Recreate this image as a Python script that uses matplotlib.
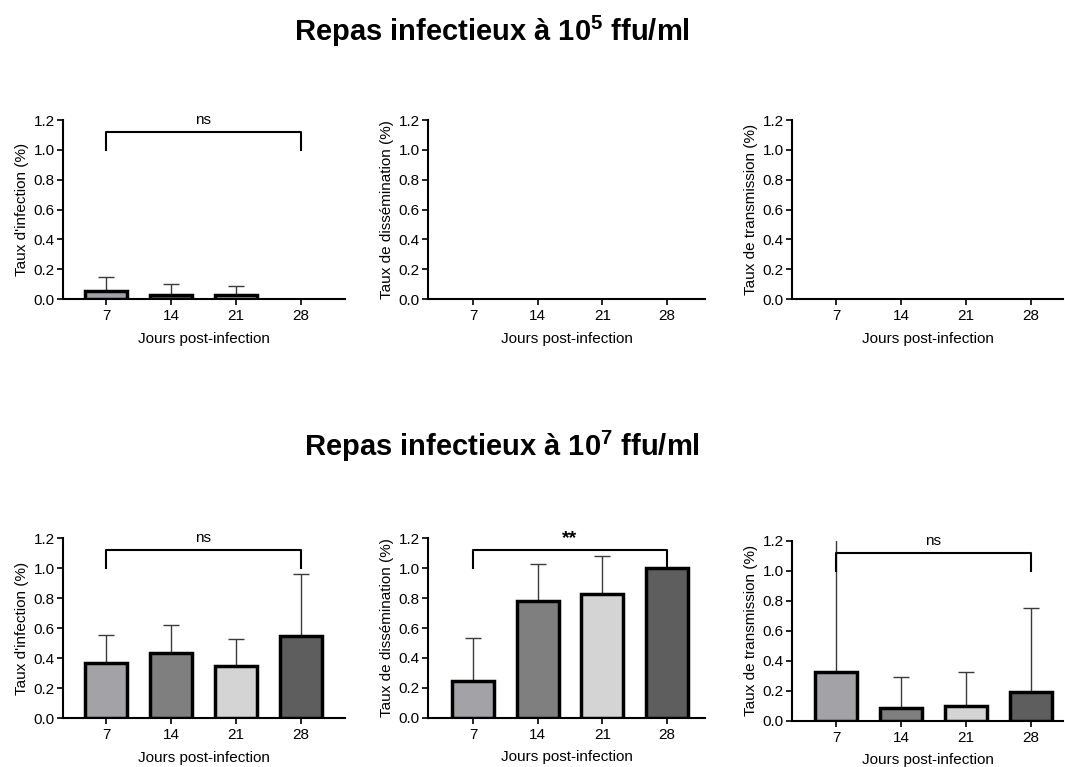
import matplotlib
matplotlib.use("Agg")
import matplotlib.pyplot as plt
import numpy as np

plt.rcParams['font.family'] = ['Liberation Sans', 'DejaVu Sans']
plt.rcParams['mathtext.fontset'] = 'custom'
plt.rcParams['mathtext.rm'] = 'Liberation Sans'
plt.rcParams['mathtext.bf'] = 'Liberation Sans:bold'

days = ['7', '14', '21', '28']
bar_colors = ['#a3a2a7', '#7f7f7f', '#d4d4d4', '#5e5e5e']

# 10^5 ffu/ml
inf5 = [0.055, 0.027, 0.025, 0.0]
inf5_err = [0.095, 0.073, 0.064, 0.0]
diss5 = [0.0, 0.0, 0.0, 0.0]
diss5_err = [0.0, 0.0, 0.0, 0.0]
trans5 = [0.0, 0.0, 0.0, 0.0]
trans5_err = [0.0, 0.0, 0.0, 0.0]

# 10^7 ffu/ml
inf7 = [0.369, 0.431, 0.347, 0.547]
inf7_err = [0.182, 0.187, 0.177, 0.413]
diss7 = [0.243, 0.78, 0.827, 1.0]
diss7_err = [0.292, 0.25, 0.253, 0.0]
trans7 = [0.327, 0.083, 0.098, 0.194]
trans7_err = [0.95, 0.211, 0.229, 0.561]

ylabels = ["Taux d'infection (%)", "Taux de dissémination (%)", "Taux de transmission (%)"]
sig7 = ['ns', '**', 'ns']

W, H = 1065, 767
fig = plt.figure(figsize=(W / 100, H / 100), dpi=100)

def px_axes(left, right, y0, y12):
    return fig.add_axes([left / W, 1 - y0 / H, (right - left) / W, (y0 - y12) / H])

# (left px, right px, tick7 px, tick28 px)
cols = [(63, 345, 106, 301), (428, 705, 473, 667), (792, 1063, 836, 1031)]
rows_top = [(299, 120), (299, 120), (299, 120)]
rows_bot = [(718, 538), (717.7, 538.3), (720.7, 541)]

def draw(ax, vals, errs, col, ylabel, sig=None):
    left, right, t7, t28 = col
    sp = (t28 - t7) / 3
    x = np.arange(len(days))
    vals = np.asarray(vals)
    errs = np.asarray(errs)
    nz = vals > 0
    ax.bar(x[nz], vals[nz], width=0.65, color=[c for c, k in zip(bar_colors, nz) if k],
           edgecolor='black', linewidth=2.5, zorder=3)
    ez = errs > 0
    if ez.any():
        ax.errorbar(x[ez], vals[ez], yerr=[np.zeros(ez.sum()), errs[ez]], fmt='none', ecolor='#3a3a3a',
                    elinewidth=1.0, capsize=6, capthick=1.0, zorder=2)
    ax.set_xlim(-(t7 - left) / sp, 3 + (right - t28) / sp)
    ax.set_ylim(0, 1.2)
    ax.set_yticks([0, 0.2, 0.4, 0.6, 0.8, 1.0, 1.2])
    ax.set_yticklabels(['0.0', '0.2', '0.4', '0.6', '0.8', '1.0', '1.2'])
    ax.set_xticks(x)
    ax.set_xticklabels(days)
    for s in ['top', 'right']:
        ax.spines[s].set_visible(False)
    for s in ['left', 'bottom']:
        ax.spines[s].set_linewidth(1.5)
    ax.tick_params(axis='both', direction='out', length=4, width=1.2, labelsize=11, colors='black')
    ax.tick_params(axis='y', pad=2)
    ax.set_ylabel(ylabel, fontsize=11, labelpad=3)
    ax.set_xlabel('Jours post-infection', fontsize=11, labelpad=6)
    if sig is not None:
        ax.plot([0, 0, 3, 3], [1.0, 1.12, 1.12, 1.0], color='black', lw=1.5, clip_on=False, zorder=4)
        if sig == '**':
            ax.text(1.5, 1.14, sig, ha='center', va='bottom', fontsize=14, fontweight='bold')
        else:
            ax.text(1.5, 1.15, sig, ha='center', va='bottom', fontsize=11)

top_data = [(inf5, inf5_err), (diss5, diss5_err), (trans5, trans5_err)]
bot_data = [(inf7, inf7_err), (diss7, diss7_err), (trans7, trans7_err)]

for i in range(3):
    ax = px_axes(cols[i][0], cols[i][1], *rows_top[i])
    draw(ax, top_data[i][0], top_data[i][1], cols[i], ylabels[i], 'ns' if i == 0 else None)
    ax = px_axes(cols[i][0], cols[i][1], *rows_bot[i])
    draw(ax, bot_data[i][0], bot_data[i][1], cols[i], ylabels[i], sig7[i])

fig.text(492 / W, 1 - 31 / H, r'Repas infectieux à $\mathbf{10^{5}}$ ffu/ml', ha='center', va='center',
         fontsize=21, fontweight='bold')
fig.text(502 / W, 1 - 446 / H, r'Repas infectieux à $\mathbf{10^{7}}$ ffu/ml', ha='center', va='center',
         fontsize=21, fontweight='bold')

fig.savefig('out.png', dpi=100)
